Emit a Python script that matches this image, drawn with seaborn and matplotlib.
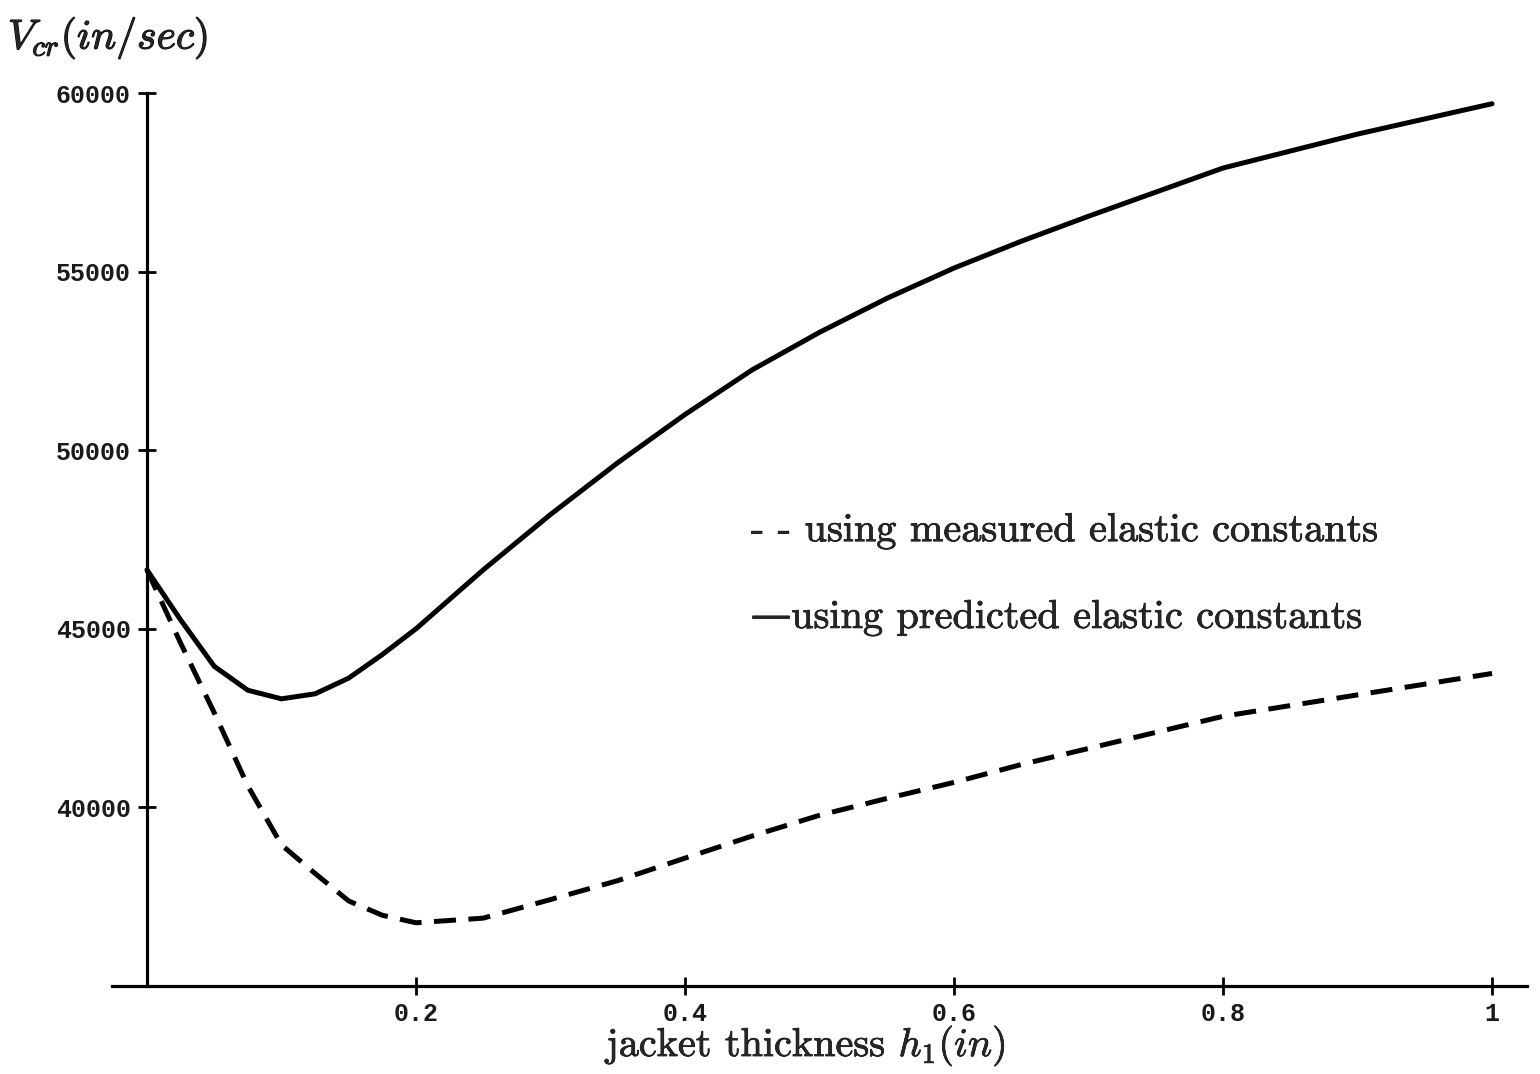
import matplotlib
matplotlib.use("Agg")
import matplotlib.pyplot as plt
import matplotlib.patheffects as pe
import seaborn as sns
import pandas as pd

# ---- data ----
thickness = [0, 0.025, 0.05, 0.075, 0.1, 0.125, 0.15, 0.175, 0.2, 0.25, 0.3,
             0.35, 0.4, 0.45, 0.5, 0.55, 0.6, 0.65, 0.7, 0.8, 0.9, 1.0]
v_predicted = [46650, 45250, 43950, 43280, 43040, 43180, 43620, 44280, 45000,
               46650, 48200, 49650, 51000, 52250, 53300, 54250, 55100, 55850,
               56550, 57900, 58850, 59700]
v_measured = [46650, 44600, 42650, 40600, 38950, 38150, 37380, 36980, 36770,
              36900, 37420, 37950, 38580, 39200, 39780, 40250, 40700, 41200,
              41650, 42550, 43150, 43750]
x_ticks = [0.2, 0.4, 0.6, 0.8, 1.0]
x_tick_labels = ["0.2", "0.4", "0.6", "0.8", "1"]
y_ticks = [40000, 45000, 50000, 55000, 60000]
y_tick_labels = ["40000", "45000", "50000", "55000", "60000"]

sns.set_theme(style="white")
plt.rcParams["mathtext.fontset"] = "cm"
plt.rcParams["axes.unicode_minus"] = False

df_pred = pd.DataFrame({"h": thickness, "v": v_predicted})
df_meas = pd.DataFrame({"h": thickness, "v": v_measured})

fig = plt.figure(figsize=(15.4, 10.74), dpi=100)
ax = fig.add_axes([112 / 1540, 88 / 1074, 1415 / 1540, 903.7 / 1074])

sns.lineplot(data=df_pred, x="h", y="v", ax=ax, color="black", lw=3.6,
             clip_on=False)
sns.lineplot(data=df_meas, x="h", y="v", ax=ax, color="black", lw=3.6,
             clip_on=False)
ax.lines[-1].set_dashes([4.4, 2.5])

ax.set_xlim(-0.026, 1.026)
ax.set_ylim(35000, 60300)

for s in ["top", "right"]:
    ax.spines[s].set_visible(False)
ax.spines["left"].set_position(("data", 0))
ax.spines["left"].set_bounds(35000, 60000)
for s in ["left", "bottom"]:
    ax.spines[s].set_linewidth(2.3)
    ax.spines[s].set_color("black")

mono = {"family": "Liberation Mono", "weight": "bold", "size": 18}
ax.set_xticks(x_ticks)
ax.set_xticklabels(x_tick_labels, fontdict=mono)
ax.set_yticks(y_ticks)
ax.set_yticklabels(y_tick_labels, fontdict=mono)
ax.tick_params(axis="both", direction="inout", length=13, width=2.0,
               color="black", labelcolor="#1a1a1a", bottom=True, left=True)
ax.tick_params(axis="x", pad=5)
ax.tick_params(axis="y", pad=5)

ax.set_xlabel("")
ax.set_ylabel("")

bold = [pe.withStroke(linewidth=0.5, foreground="black")]
serif = ["cmr10", "DejaVu Serif"]
fig.text(807 / 1540, 1 - 1046 / 1074,
         r"jacket thickness $h_1(in)$", ha="center", va="center",
         fontsize=29, family=serif, path_effects=bold)
fig.text(8 / 1540, 1 - 38 / 1074, r"$V_{cr}(in/sec)$",
         ha="left", va="center", fontsize=30,
         path_effects=[pe.withStroke(linewidth=0.8, foreground="black")])
ax.text(0.449, 47740, "- - using measured elastic constants",
        ha="left", va="center", fontsize=29, family=serif, path_effects=bold)
ax.text(0.449, 45310, "\u2014using predicted elastic constants",
        ha="left", va="center", fontsize=29, family=serif, path_effects=bold)

fig.savefig("out.png", dpi=100, facecolor="white")
